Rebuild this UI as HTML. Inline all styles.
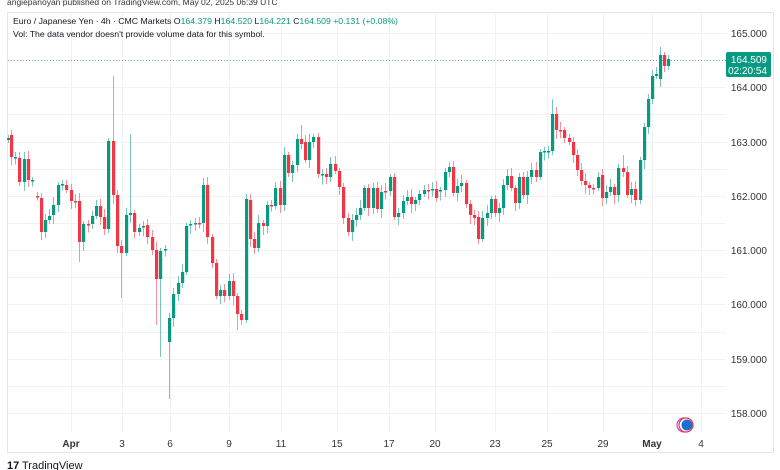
<!DOCTYPE html>
<html><head><meta charset="utf-8"><style>
html,body{margin:0;padding:0;background:#fff;width:780px;height:470px;overflow:hidden;font-family:"Liberation Sans",sans-serif}
</style></head><body>
<svg id="s" width="780" height="470" xmlns="http://www.w3.org/2000/svg" style="position:absolute;left:0;top:0">
<text x="7" y="5" font-size="8.5" fill="#333">angiepanoyan published on TradingView.com, May 02, 2025 06:39 UTC</text>
<rect x="7.5" y="12.5" width="766" height="440" fill="none" stroke="#e6e6e6"/>
<g id="grid" stroke="#f2f2f2" stroke-width="1"></g>
<g id="c"></g>
<line x1="8" y1="60.5" x2="726" y2="60.5" stroke="#089981" stroke-dasharray="1,2" stroke-width="1" opacity="0.6"/>
<text x="13" y="24" font-size="8.7" fill="#131722">Euro / Japanese Yen · 4h · CMC Markets  O<tspan fill="#089981">164.379</tspan>  H<tspan fill="#089981">164.520</tspan>  L<tspan fill="#089981">164.221</tspan>  C<tspan fill="#089981">164.509</tspan>  <tspan fill="#089981">+0.131 (+0.08%)</tspan></text>
<text x="13" y="37" font-size="8.7" fill="#131722">Vol: The data vendor doesn't provide volume data for this symbol.</text>
<g id="ax" font-size="10" fill="#333" text-anchor="end"></g>
<rect x="726" y="52" width="45" height="25" rx="2" fill="#089981"/>
<text x="767" y="63" font-size="10" fill="#fff" text-anchor="end">164.509</text>
<text x="767" y="74" font-size="10" fill="#fff" text-anchor="end">02:20:54</text>
<g id="tx" font-size="10" fill="#333" text-anchor="middle"></g>
<circle cx="684" cy="425" r="7" fill="#fff" stroke="#b54ad8" stroke-width="1.2"/>
<circle cx="686" cy="425" r="7" fill="#fff" stroke="#f23645" stroke-width="1.2"/>
<circle cx="687" cy="425" r="5.5" fill="#1a6fd0"/>
<text x="7" y="469" font-size="11" fill="#131722" font-weight="bold">17</text>
<text x="22" y="469" font-size="11" fill="#131722">TradingView</text>
</svg>
<script>
var NS="http://www.w3.org/2000/svg";
function el(p,t,a,txt){var e=document.createElementNS(NS,t);for(var k in a)e.setAttribute(k,a[k]);if(txt)e.textContent=txt;document.getElementById(p).appendChild(e);}
for(var k=0;k<=14;k++){var y=Math.round(33+k*27.143)+0.5;el("grid","line",{x1:8,x2:726,y1:y,y2:y});
 if(k%2==0)el("ax","text",{x:767,y:y+3.5},(165-k*0.5).toFixed(3));}
var T=[["Apr",71],["3",122],["6",170],["9",229],["11",281],["15",337],["17",389],["20",435],["23",495],["25",547],["29",603],["May",652],["4",701]];
T.forEach(function(t){el("grid","line",{x1:t[1]+.5,x2:t[1]+.5,y1:13,y2:432});el("tx","text",{x:t[1],y:447,"font-weight":(t[0]=="Apr"||t[0]=="May")?"bold":"normal"},t[0]);});
var D=[[8,140,138],[11,135,157,130],[15,157,157],[19,158,182],[24,182,159],[28,159,180],[32,180,180],[37,196,196],[41,198,232],[45,232,220],[49,220,216],[53,215,205],[58,205,185],[62,185,184],[66,185,190],[71,190,201],[75,201,202],[79,201,242,0,262],[83,242,224],[88,224,224],[92,224,216],[96,216,206],[100,206,217],[104,217,229],[108,229,141],[113,141,195,76],[117,195,246],[121,246,253,0,298],[126,253,215],[130,215,213,134],[134,213,232],[139,232,228],[143,226,226],[147,225,237],[152,237,250],[156,250,279,0,325],[160,279,251,0,357],[165,250,249],[169,342,318,0,399],[173,318,294],[178,294,283],[182,283,272],[186,272,226],[190,225,224],[195,224,223],[199,223,223],[203,223,185],[207,185,237],[212,237,263],[216,263,296],[220,296,290],[224,290,296],[229,296,281],[233,281,296],[237,296,314,0,330],[241,314,320],[246,320,199],[250,200,239],[254,239,248],[258,248,223],[263,223,226],[267,226,205],[271,205,206],[275,206,188],[280,188,205],[284,205,155],[288,155,173],[292,173,165],[297,165,139],[301,139,144,125],[305,142,160],[309,160,142],[313,142,137],[318,137,174],[322,174,174],[326,174,177],[330,177,164],[335,164,171],[339,171,187],[343,187,218],[348,218,232],[352,232,220],[356,220,215],[360,215,208],[364,208,188],[368,188,208],[373,208,188],[377,188,209],[381,209,192],[385,191,191],[390,191,177],[394,177,217],[398,217,213],[403,213,201],[407,201,197],[411,197,204],[415,204,200],[419,200,194],[424,194,190],[428,190,190],[432,190,189],[436,189,198],[440,190,190],[445,190,172],[449,172,167],[453,167,193],[457,193,186],[461,186,183],[466,183,204],[470,204,215],[474,215,218],[478,217,239],[482,239,218],[487,218,213],[491,213,199],[495,199,213],[499,213,208],[503,208,185],[507,185,176],[511,176,188],[515,188,203],[519,203,177],[523,177,195],[527,195,177],[531,177,170],[536,170,177],[540,177,152],[544,152,151],[548,151,151],[552,151,114,99],[556,114,130],[560,130,130],[564,130,138],[569,138,142],[573,142,155],[577,155,170],[581,170,181],[585,181,185],[589,185,188],[593,188,188],[598,188,177],[602,175,198],[606,198,192],[610,192,187],[614,187,195],[618,195,168],[623,168,172,155],[627,172,195],[631,195,189],[635,189,200],[640,200,160],[644,160,127],[648,127,99],[652,99,76],[656,76,74],[660,79,55],[664,55,66],[668,66,59]];
D.forEach(function(d,i){var x=d[0],o=d[1],c=d[2];var up=c<o||(c==o&&i%2==0);var col=up?"#089981":"#f23645";
 var t=Math.min(o,c),b=Math.max(o,c);if(b-t<1.5){b=t+1.5;}
 var h=d[3]||t-(3+(i*7)%6),l=d[4]||b+(3+(i*5)%7);
 el("c","line",{x1:x+.5,x2:x+.5,y1:h,y2:l,stroke:col,"stroke-opacity":0.55,"stroke-width":1});
 el("c","rect",{x:x-1,y:t,width:3.2,height:b-t,fill:col});});
</script>
</body></html>
